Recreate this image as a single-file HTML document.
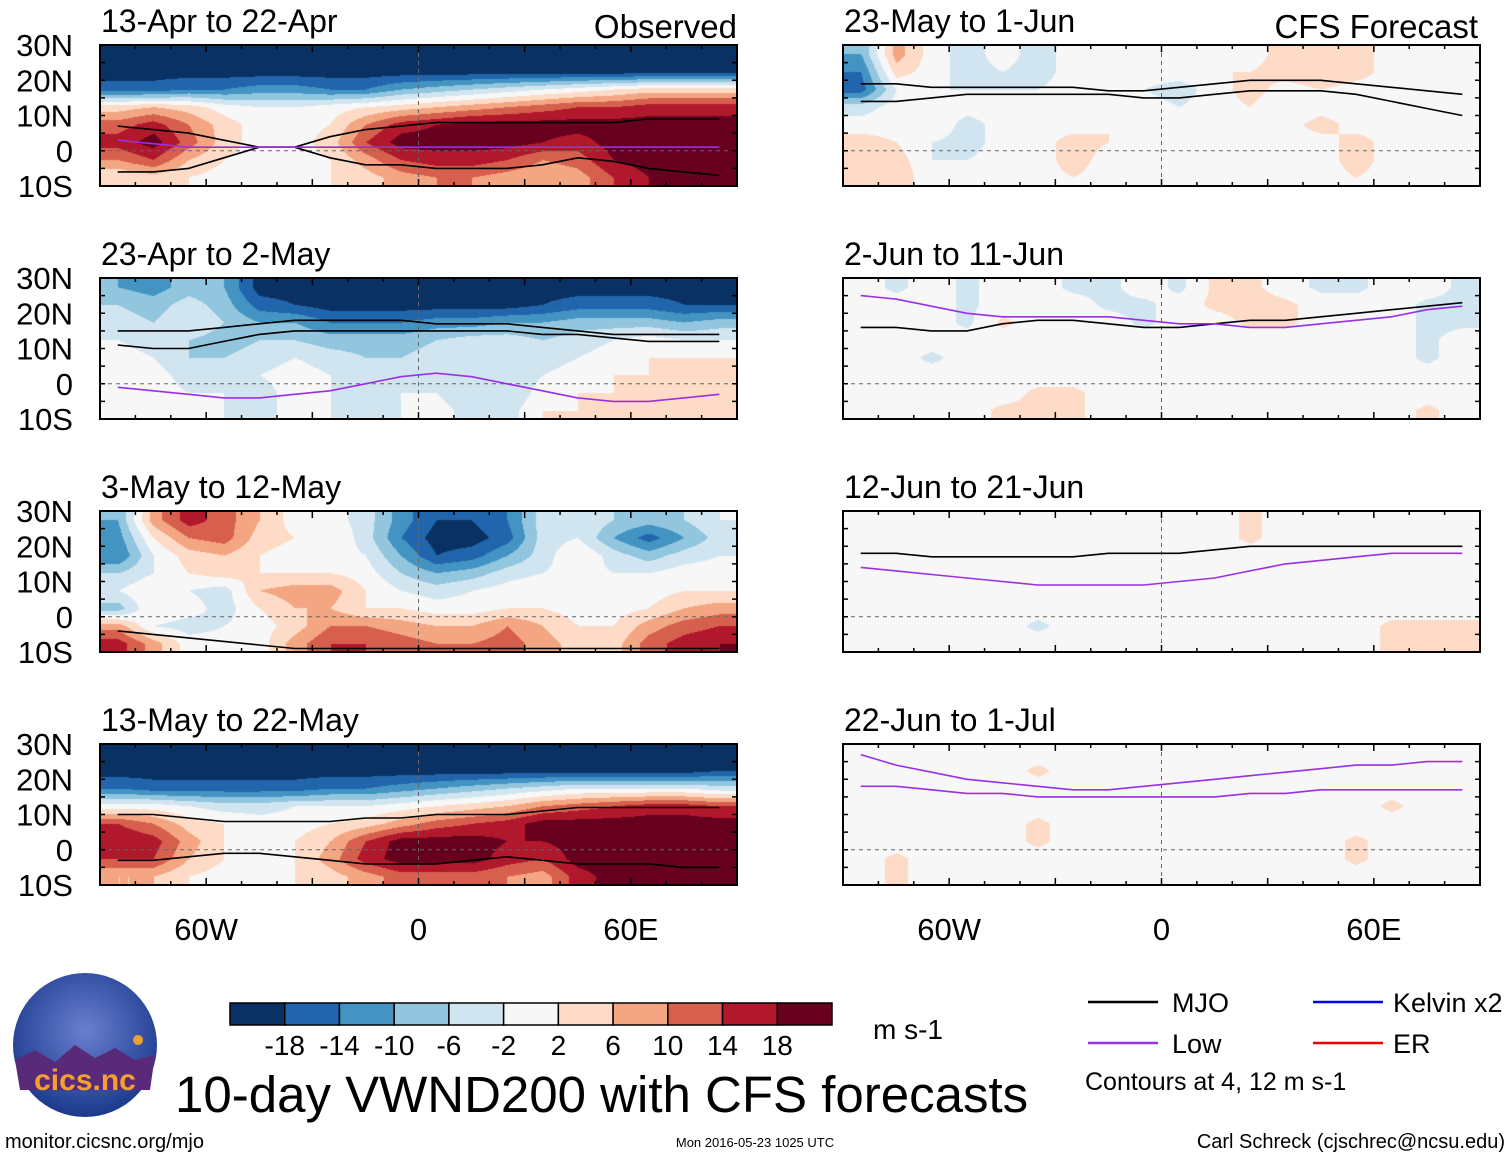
<!DOCTYPE html>
<html><head><meta charset="utf-8">
<style>
html,body{margin:0;padding:0;background:#fff;}
#wrap{position:relative;width:1510px;height:1158px;overflow:hidden;font-family:"Liberation Sans",sans-serif;}
canvas{position:absolute;}
svg{position:absolute;left:0;top:0;}
</style></head>
<body>
<div id="wrap">
<svg id="ov" width="1510" height="1158"></svg>
</div>
<script>
const lonCenters=[-85,-75,-65,-55,-45,-35,-25,-15,-5,5,15,25,35,45,55,65,75,85];
const latCenters=[27.5,22.5,17.5,12.5,7.5,2.5,-2.5,-7.5];
const panelTitles=["13-Apr to 22-Apr","23-Apr to 2-May","3-May to 12-May","13-May to 22-May","23-May to 1-Jun","2-Jun to 11-Jun","12-Jun to 21-Jun","22-Jun to 1-Jul"];
const yTickLabels=["30N","20N","10N","0","10S"];
const yTickLats=[30,20,10,0,-10];
const xTickLabels=["60W","0","60E"];
const xTickLons=[-60,0,60];
const cbarLevels=[-18,-14,-10,-6,-2,2,6,10,14,18];
const cbarColors=["#0a3163","#2166ac","#4393c3","#92c5de","#d1e5f0","#f7f7f7","#fddbc7","#f4a582","#d6604d","#b2182b","#67001f"];
const Z=[0,0,0,0,0,0,0,0,0,0,0,0,0,0,0,0,0,0];
const F20=[-20,-20,-20,-20,-20,-20,-20,-20,-20,-20,-20,-20,-20,-20,-20,-20,-20,-20];
const field1=[F20,F20,
[-16,-16,-14,-14,-12,-12,-14,-14,-10,-8,-6,-4,-2,0,2,4,4,4],
[4,6,4,0,-2,-2,0,2,4,6,8,10,12,14,14,16,16,16],
[12,16,10,4,0,0,2,10,16,18,20,20,20,20,20,20,20,20],
[16,20,12,4,0,0,4,14,20,20,20,20,18,16,20,20,20,20],
[10,14,6,2,0,0,2,8,14,16,16,14,10,12,18,20,20,20],
[2,4,2,0,0,0,2,4,8,10,10,8,6,8,14,18,18,18]];
const field2=[
[-10,-12,-8,-10,-20,-20,-20,-20,-20,-20,-20,-20,-20,-20,-20,-20,-20,-20],
[-6,-8,-4,-8,-16,-18,-20,-20,-20,-20,-20,-20,-18,-16,-16,-16,-18,-18],
[-4,-6,-2,-6,-10,-10,-14,-14,-14,-12,-12,-10,-10,-8,-8,-8,-10,-8],
[-2,-4,-6,-8,-6,-6,-8,-8,-8,-6,-4,-4,-6,-4,-2,0,-2,-2],
[0,-2,-6,-6,-4,-2,-4,-6,-6,-4,-2,-2,-4,-2,0,2,2,2],
[-2,0,-4,-4,-2,0,-2,-4,-4,-2,-4,-6,-2,0,2,2,4,6],
[-2,0,-2,-2,-4,0,-2,-4,-2,-2,-6,-6,0,2,2,2,4,4],
[-2,-2,0,-2,-4,0,-2,-6,-2,0,-4,-4,2,2,2,2,2,2]];
const field3=[
[-10,8,16,12,6,0,0,-4,-12,-18,-18,-14,-4,-2,-6,-8,-6,-2],
[-12,2,10,12,4,2,2,-4,-14,-20,-20,-16,-4,-2,-10,-16,-10,-4],
[-14,-2,4,6,2,0,0,-2,-10,-18,-16,-10,-4,2,-4,-8,-4,-2],
[-6,-2,2,4,2,2,2,0,-6,-10,-8,-4,-2,0,-2,-2,0,0],
[-2,2,-2,-4,6,8,8,2,-2,-4,-2,0,2,0,0,0,2,2],
[-8,2,0,-4,2,6,6,2,2,0,0,2,2,0,0,2,6,8],
[8,-2,-4,-2,0,4,10,10,8,6,6,10,6,2,2,8,12,14],
[16,8,0,0,0,8,14,14,12,10,10,12,8,4,4,12,16,18]];
const field4=[F20,
[-20,-20,-20,-20,-20,-20,-20,-20,-20,-20,-20,-20,-20,-20,-20,-20,-20,-18],
[-14,-16,-16,-16,-16,-16,-14,-14,-12,-10,-8,-6,-4,-2,-2,-2,-2,-4],
[0,0,-2,-4,-4,-2,-2,-2,0,2,4,6,10,12,14,16,16,14],
[14,10,4,2,0,0,2,4,8,12,14,16,20,20,20,20,20,20],
[18,16,8,2,0,2,6,14,20,20,20,18,18,20,20,20,20,20],
[14,14,6,2,0,2,8,16,20,20,20,16,14,20,20,20,20,20],
[6,6,2,0,0,2,4,8,12,12,12,10,8,16,20,20,18,18]];
const field5=[
[-10,8,0,-4,0,-4,0,0,0,-2,0,0,4,6,4,0,-2,-2],
[-14,4,0,-4,-2,-4,0,-2,0,0,2,2,4,6,4,0,-2,-2],
[-16,-2,-2,-2,-2,-2,0,-2,-2,-4,0,4,0,2,0,0,0,-2],
[-4,0,0,0,0,0,0,0,0,-2,0,2,-2,0,0,0,0,0],
[0,0,2,-4,0,0,0,2,0,0,0,-2,0,4,0,0,0,0],
[4,2,-2,-4,0,0,4,2,0,0,0,-2,0,0,4,0,0,0],
[4,4,-2,-2,0,0,4,0,0,0,0,0,0,0,4,0,0,0],
[4,6,-2,0,0,0,2,0,0,0,0,0,0,0,2,0,0,0]];
const field6=[
[0,-3,0,-3,0,0,-3,-3,0,-3,3,3,0,-3,-3,0,0,-3],
[0,0,0,-3,0,0,0,-3,-3,0,3,4,3,0,0,0,-3,-3],
[0,0,0,-3,3,0,0,0,-3,0,0,3,3,0,0,0,-3,-3],
[0,0,0,0,0,0,0,0,0,0,0,0,0,0,0,0,-3,0],
[0,0,-3,0,0,0,0,0,0,0,0,0,0,0,0,0,-3,0],
Z,
[0,0,0,0,0,3,3,0,0,0,0,0,0,0,0,0,0,0],
[0,0,0,0,3,3,3,0,0,0,0,0,0,0,0,0,3,0]];
const field7=[
[0,0,0,0,0,0,0,0,0,0,0,3,0,0,0,0,0,0],
[0,0,0,0,0,0,0,0,0,0,0,3,0,0,0,0,0,0],
Z,Z,Z,
[0,0,0,0,0,0,0,0,0,0,0,0,0,0,0,0,0,0],
[0,0,0,0,0,-3,0,0,0,0,0,0,0,0,0,3,3,3],
[0,0,0,0,0,0,0,0,0,0,0,0,0,0,0,3,4,4]];
const field8=[
[0,0,0,0,0,0,0,0,0,0,0,0,0,0,0,0,0,0],
[0,0,0,0,0,3,0,0,0,0,0,0,0,0,0,0,0,0],
[0,0,0,0,0,0,0,0,0,0,0,0,0,0,0,0,0,0],
[0,0,0,0,0,0,0,0,0,0,0,0,0,0,0,3,0,0],
[0,0,0,0,0,3,0,0,0,0,0,0,0,0,0,0,0,0],
[0,0,0,0,0,3,0,0,0,0,0,0,0,0,3,0,0,0],
[0,3,0,0,0,0,0,0,0,0,0,0,0,0,3,0,0,0],
[0,3,0,0,0,0,0,0,0,0,0,0,0,0,0,0,0,0]];
const fields=[field1,field2,field3,field4,field5,field6,field7,field8];
const mjoLines=[
 [[7,6,5,3,1,1,4,6,7,8,8,8,8,8,8,9,9,9],[-6,-6,-5,-2,1,1,-2,-4,-4,-5,-5,-5,-4,-2,-3,-5,-6,-7]],
 [[15,15,15,16,17,18,18,18,18,17,17,17,16,15,14,14,14,14],[11,10,10,12,14,15,15,15,15,15,15,15,14,14,13,12,12,12]],
 [[-4,-5,-6,-7,-8,-9,-9,-9,-9,-9,-9,-9,-9,-9,-9,-9,-9,-9]],
 [[10,10,9,8,8,8,8,9,9,10,10,10,11,12,12,12,12,12],[-3,-3,-2,-1,-1,-2,-3,-4,-4,-4,-3,-2,-3,-4,-4,-4,-5,-5]],
 [[19,19,18,18,18,18,18,17,17,18,19,20,20,20,19,18,17,16],[14,14,15,16,16,16,16,16,15,15,16,17,17,17,16,14,12,10]],
 [[16,16,15,15,17,18,18,17,16,16,17,18,18,19,20,21,22,23]],
 [[18,18,17,17,17,17,17,18,18,18,19,20,20,20,20,20,20,20]],
 []];
const lowLines=[
 [[3,2,1,1,1,1,1,1,1,1,1,1,1,1,1,1,1,1]],
 [[-1,-2,-3,-4,-4,-3,-2,0,2,3,2,0,-2,-4,-5,-5,-4,-3]],
 [],
 [],
 [],
 [[25,24,22,20,19,19,19,19,18,17,17,16,16,17,18,19,21,22]],
 [[14,13,12,11,10,9,9,9,9,10,11,13,15,16,17,18,18,18]],
 [[27,24,22,20,19,18,17,17,18,19,20,21,22,23,24,24,25,25],[18,18,17,16,16,15,15,15,15,15,15,16,16,17,17,17,17,17]]];

const PX=[100,100,100,100,843,843,843,843];
const PY=[45,278,511,744,45,278,511,744];
const PW=637,PH=141;
const wrap=document.getElementById('wrap');
const ov=document.getElementById('ov');
const NS="http://www.w3.org/2000/svg";
function xs(p,lon){return PX[p]+(lon+90)/180*PW;}
function ys(p,lat){return PY[p]+(30-lat)/40*PH;}
function colorFor(v){let i=0;while(i<cbarLevels.length&&v>=cbarLevels[i])i++;return cbarColors[i];}
function hex(c){return [parseInt(c.substr(1,2),16),parseInt(c.substr(3,2),16),parseInt(c.substr(5,2),16)];}
function sample(f,lon,lat){
 let fx=(lon-lonCenters[0])/10, fy=(latCenters[0]-lat)/5;
 fx=Math.max(0,Math.min(lonCenters.length-1,fx)); fy=Math.max(0,Math.min(latCenters.length-1,fy));
 const x0=Math.floor(fx),y0=Math.floor(fy),x1=Math.min(x0+1,lonCenters.length-1),y1=Math.min(y0+1,latCenters.length-1);
 const tx=fx-x0,ty=fy-y0;
 const a=f[y0][x0]*(1-tx)+f[y0][x1]*tx, b=f[y1][x0]*(1-tx)+f[y1][x1]*tx;
 return a*(1-ty)+b*ty;
}
function el(tag,attrs,parent,txt){const e=document.createElementNS(NS,tag);for(const k in attrs)e.setAttribute(k,attrs[k]);if(txt!==undefined)e.textContent=txt;(parent||ov).appendChild(e);return e;}

for(let p=0;p<8;p++){
 const cv=document.createElement('canvas');
 cv.width=PW;cv.height=PH;cv.style.left=PX[p]+'px';cv.style.top=PY[p]+'px';
 
 
 wrap.insertBefore(cv,ov);
 const ctx=cv.getContext('2d');const img=ctx.createImageData(PW,PH);
 const cache={};
 for(let y=0;y<PH;y++)for(let x=0;x<PW;x++){
  const lon=-90+x/PW*180, lat=30-y/PH*40;
  const c=colorFor(sample(fields[p],lon,lat));
  const rgb=cache[c]||(cache[c]=hex(c));
  const i=(y*PW+x)*4;img.data[i]=rgb[0];img.data[i+1]=rgb[1];img.data[i+2]=rgb[2];img.data[i+3]=255;
 }
 ctx.putImageData(img,0,0);
 const g=el('g',{});
 
 
 el('line',{x1:PX[p],x2:PX[p]+PW,y1:ys(p,0),y2:ys(p,0),stroke:'#666','stroke-dasharray':'4,4','stroke-width':1},g);
 el('line',{x1:xs(p,0),x2:xs(p,0),y1:PY[p],y2:PY[p]+PH,stroke:'#666','stroke-dasharray':'4,4','stroke-width':1},g);
 const drawLines=(arr,col,name)=>{arr.forEach(l=>{
  let d='';l.forEach((lat,i)=>{d+=(i?'L':'M')+xs(p,lonCenters[i]).toFixed(1)+','+ys(p,lat).toFixed(1);});
  const path=el('path',{d:d,fill:'none',stroke:col,'stroke-width':1.6},g);
  
  
 });};
 drawLines(mjoLines[p],'#000','mjo-contour');
 drawLines(lowLines[p],'#9a2fe6','low-contour');
 el('rect',{x:PX[p],y:PY[p],width:PW,height:PH,fill:'none',stroke:'#000','stroke-width':2},g);
 for(let lon=-80;lon<=80;lon+=10){const x=xs(p,lon);const L=(lon%30==0)?7:4;
  el('line',{x1:x,x2:x,y1:PY[p],y2:PY[p]+L,stroke:'#000','stroke-width':1.5},g);
  el('line',{x1:x,x2:x,y1:PY[p]+PH,y2:PY[p]+PH-L,stroke:'#000','stroke-width':1.5},g);}
 for(let lat=-5;lat<=25;lat+=5){const y=ys(p,lat);
  el('line',{x1:PX[p],x2:PX[p]+5,y1:y,y2:y,stroke:'#000','stroke-width':1.5},g);
  el('line',{x1:PX[p]+PW,x2:PX[p]+PW-5,y1:y,y2:y,stroke:'#000','stroke-width':1.5},g);}
 const t=el('text',{x:PX[p]+1,y:PY[p]-13,'font-size':32,fill:'#000'},g,panelTitles[p]);
 
 
 if(p<4){yTickLabels.forEach((s,i)=>{const yl=el('text',{x:73,y:ys(p,yTickLats[i])+11,'font-size':31,'text-anchor':'end'},g,s);
  
  });}
}
[0,4].forEach(p=>{xTickLabels.forEach((s,i)=>{const xl=el('text',{x:xs(p,xTickLons[i]),y:940,'font-size':31,'text-anchor':'middle'},ov,s);
 
 });});
</script>
<script>
(function(){
const ov=document.getElementById('ov');const NS="http://www.w3.org/2000/svg";
function el(tag,attrs,parent,txt){const e=document.createElementNS(NS,tag);for(const k in attrs)e.setAttribute(k,attrs[k]);if(txt!==undefined)e.textContent=txt;(parent||ov).appendChild(e);return e;}
let t=el('text',{x:737,y:38,'font-size':33,'text-anchor':'end'},ov,'Observed');

t=el('text',{x:1478,y:38,'font-size':33,'text-anchor':'end'},ov,'CFS Forecast');

const cb=el('g',{});
const bw=(832-230)/cbarColors.length;
cbarColors.forEach((c,i)=>{el('rect',{x:230+i*bw,y:1003,width:bw,height:22,fill:c,stroke:'#000','stroke-width':1.5},cb);});
cbarLevels.forEach((v,i)=>{el('text',{x:230+(i+1)*bw,y:1055,'font-size':28,'text-anchor':'middle'},cb,String(v));});
t=el('text',{x:873,y:1039,'font-size':28},ov,'m s-1');

t=el('text',{x:175,y:1112,'font-size':51},ov,'10-day VWND200 with CFS forecasts');

const lg=el('g',{});
[[1088,1002,'#000','MJO',1172],[1313,1002,'#0000ee','Kelvin x2',1393],[1088,1043,'#9a2fe6','Low',1172],[1313,1043,'#ee0000','ER',1393]].forEach(a=>{
 const e=el('g',{},lg);
 el('line',{x1:a[0],x2:a[0]+70,y1:a[1],y2:a[1],stroke:a[2],'stroke-width':2.5},e);
 el('text',{x:a[4],y:a[1]+10,'font-size':27},e,a[3]);});
t=el('text',{x:1085,y:1090,'font-size':25},ov,'Contours at 4, 12 m s-1');

const lo=el('g',{});
const dg=el('defs',{},lo);const rg=el('radialGradient',{id:'lg1',cx:'50%',cy:'40%',r:'60%'},dg);
el('stop',{offset:'0%','stop-color':'#6a7fd0'},rg);el('stop',{offset:'100%','stop-color':'#1b3a8c'},rg);
el('circle',{cx:85,cy:1045,r:72,fill:'url(#lg1)'},lo);
el('path',{d:'M15,1060 L35,1050 L55,1062 L75,1045 L95,1058 L115,1048 L135,1060 L155,1055 L150,1090 L20,1090 Z',fill:'#5a2a7a'},lo);
el('circle',{cx:138,cy:1040,r:5,fill:'#f0a030'},lo);
el('text',{x:85,y:1090,'font-size':30,'text-anchor':'middle',fill:'#f4a030','font-weight':'bold'},lo,'cics.nc');
t=el('text',{x:5,y:1148,'font-size':20},ov,'monitor.cicsnc.org/mjo');

t=el('text',{x:755,y:1147,'font-size':13,'text-anchor':'middle'},ov,'Mon 2016-05-23 1025 UTC');

t=el('text',{x:1505,y:1148,'font-size':20,'text-anchor':'end'},ov,'Carl Schreck (cjschrec@ncsu.edu)');

})();
</script>
</body></html>
